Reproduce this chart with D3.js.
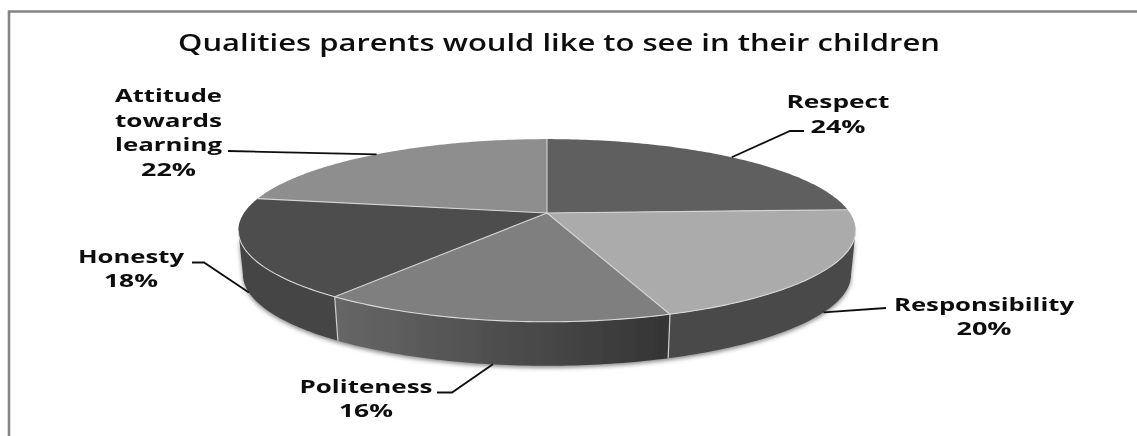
<!DOCTYPE html>
<html><head><meta charset="utf-8">
<script src="https://cdn.jsdelivr.net/npm/d3@7/dist/d3.min.js"></script>
<style>html,body{margin:0;padding:0;background:#fff}svg{display:block}</style>
</head><body><svg id="c" width="1137" height="436"></svg>
<script>
const chartTitle = "Qualities parents would like to see in their children";
const categories = ["Respect","Responsibility","Politeness","Honesty","Attitude towards learning"];
const values = [24.4,20.2,15.5,17.6,22.3];
const topColors = ["#5f5f5f","#ababab","#7f7f7f","#4d4d4d","#8e8e8e"];
const wallColors = ["#484848","#484848","url(#wallGrad)","#454545","#8e8e8e"];
const nameLines = [["Respect"],["Responsibility"],["Politeness"],["Honesty"],["Attitude","towards","learning"]];
const labelX = [838,984,366,131,168.5];
const labelY = [[107.5,132.5],[311,335],[393,417],[263,287],[102,127,151,176]];
const labelWidths = [[103,55],[180,55],[133,54],[106,54],[107,107,107,55]];
const elbows = [[[790,131],[804,131]],[[886,308]],[[452,392.5],[437,392.5]],[[204,262.5],[192,262.5]],[[228,151]]];

const cx=547, cy=213, rx=303, ry=88, k=0.191, depth=44;
const svg=d3.select("#c");
const defs=svg.append("defs");
const f=defs.append("filter").attr("id","soft").attr("x","-2%").attr("y","-2%").attr("width","104%").attr("height","104%");
f.append("feGaussianBlur").attr("stdDeviation",0.45);
const sh=defs.append("filter").attr("id","shadow").attr("x","-5%").attr("y","-10%").attr("width","110%").attr("height","125%");
sh.append("feGaussianBlur").attr("stdDeviation",2);
const g0=defs.append("linearGradient").attr("id","wallGrad").attr("gradientUnits","userSpaceOnUse").attr("x1",340).attr("x2",671).attr("y1",0).attr("y2",0);
g0.append("stop").attr("offset",0).attr("stop-color","#666");
g0.append("stop").attr("offset",1).attr("stop-color","#343434");

const root=svg.append("g").attr("filter","url(#soft)");
root.append("path").attr("d","M9,436V11.5H1137").attr("fill","none").attr("stroke","#858585").attr("stroke-width",2.6);

const pie=d3.pie().sort(null).startAngle(0).endAngle(2*Math.PI)(values);
const proj=a=>{const u=Math.sin(a),v=-Math.cos(a),w=1-k*v;return [cx+rx*u/w,cy+ry*v/w];};
const wallProj=a=>{const p=proj(a);return [cx+(p[0]-cx)*0.985,p[1]+depth];};
const line=d3.line();
const sample=(a0,a1)=>{const n=Math.max(2,Math.ceil(Math.abs(a1-a0)*60));return d3.range(n+1).map(i=>a0+(a1-a0)*i/n);};
const visA=Math.acos(-k), visB=2*Math.PI-visA;

// walls
const wallArcs=pie.map(d=>({d,a0:Math.max(d.startAngle,visA),a1:Math.min(d.endAngle,visB)})).filter(s=>s.a1>s.a0);
const wallPath=s=>{const A=sample(s.a0,s.a1);return line(A.map(proj).concat(A.slice().reverse().map(wallProj)))+"Z";};
root.append("path").attr("filter","url(#shadow)").attr("fill","#888").attr("transform","translate(0,2)")
  .attr("d",wallPath({a0:visA,a1:visB}));
root.selectAll("path.wall").data(wallArcs).join("path").attr("class","wall")
  .attr("d",wallPath).attr("fill",s=>wallColors[s.d.index]);
root.selectAll("line.wsep").data(pie.filter(d=>d.endAngle>visA&&d.endAngle<visB)).join("line").attr("class","wsep")
  .attr("x1",d=>proj(d.endAngle)[0]).attr("y1",d=>proj(d.endAngle)[1])
  .attr("x2",d=>wallProj(d.endAngle)[0]).attr("y2",d=>wallProj(d.endAngle)[1])
  .attr("stroke","#cfcfcf").attr("stroke-width",1.2);

// top face
root.selectAll("path.top").data(pie).join("path").attr("class","top")
  .attr("d",d=>line([[cx,cy]].concat(sample(d.startAngle,d.endAngle).map(proj)))+"Z")
  .attr("fill",d=>topColors[d.index]);
root.selectAll("line.spoke").data(pie).join("line").attr("class","spoke")
  .attr("x1",cx).attr("y1",cy)
  .attr("x2",d=>proj(d.endAngle)[0]).attr("y2",d=>proj(d.endAngle)[1])
  .attr("stroke","#d4d4d4").attr("stroke-width",1.1);
root.append("path").attr("d",line(sample(visA,visB).map(proj))).attr("fill","none")
  .attr("stroke","#d9d9d9").attr("stroke-width",1.1);

// leaders
const onWall=[false,true,true,true,false];
root.selectAll("path.leader").data(pie).join("path").attr("class","leader")
  .attr("d",d=>{const m=(d.startAngle+d.endAngle)/2;const s=onWall[d.index]?wallProj(m):proj(m);return line([s].concat(elbows[d.index]));})
  .attr("fill","none").attr("stroke","#111").attr("stroke-width",1.8);

// labels
const font="'Open Sans',sans-serif";
categories.forEach((c,i)=>{
  const lines=nameLines[i].concat(Math.round(values[i])+"%");
  lines.forEach((t,j)=>{
    root.append("text").attr("x",labelX[i]).attr("y",labelY[i][j]).attr("text-anchor","middle")
      .attr("font-family",font).attr("font-weight",700).attr("font-size",18).attr("fill","#111")
      .attr("textLength",labelWidths[i][j]).attr("lengthAdjust","spacingAndGlyphs").text(t);
  });
});
root.append("text").attr("x",559).attr("y",50.5).attr("text-anchor","middle").attr("font-family",font)
  .attr("font-weight",600).attr("font-size",23.5).attr("fill","#111").attr("textLength",762).attr("lengthAdjust","spacingAndGlyphs").text(chartTitle);
</script></body></html>
